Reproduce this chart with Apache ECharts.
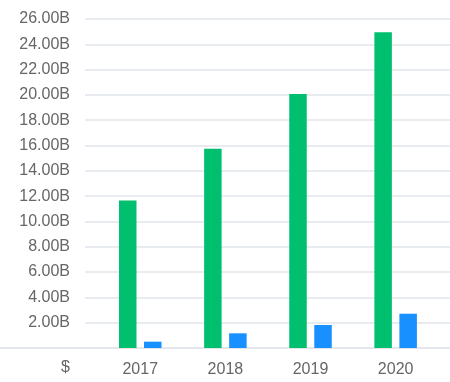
<!DOCTYPE html>
<html><head><meta charset="utf-8">
<script src="https://cdn.jsdelivr.net/npm/echarts@6/dist/echarts.min.js"></script>
<style>html,body{margin:0;padding:0;background:#fff}#c{width:450px;height:382px}</style>
</head><body><div id="c"></div>
<script>
var categories = ['2017', '2018', '2019', '2020'];
var seriesA = [11.65, 15.75, 20.08, 24.95];
var seriesB = [0.50, 1.16, 1.82, 2.71];
var yTicks = { min: 0, max: 26, interval: 2, suffix: 'B', unit: '$' };

var chart = echarts.init(document.getElementById('c'), null, { renderer: 'canvas' });
var labelColor = '#666';
var font = 'Arial, "Liberation Sans", sans-serif';
chart.setOption({
  animation: false,
  grid: [
    { left: 85, right: 0, top: 19, bottom: 34 },
    { left: 97.7, right: 11.8, top: 19, bottom: 34 },
    { left: 0, right: 0, top: 19, bottom: 34 }
  ],
  xAxis: [
    { gridIndex: 0, type: 'category', data: categories, show: false },
    { gridIndex: 1, type: 'category', data: categories,
      axisLine: { show: false }, axisTick: { show: false },
      axisLabel: { color: labelColor, fontSize: 16, fontFamily: font, margin: 14 } },
    { gridIndex: 2, type: 'category', data: categories,
      axisLine: { show: true, lineStyle: { color: '#e3e6eb', width: 2 } },
      axisTick: { show: false }, axisLabel: { show: false } }
  ],
  yAxis: [
    { gridIndex: 0, type: 'value', min: yTicks.min, max: yTicks.max, interval: yTicks.interval,
      name: yTicks.unit, nameLocation: 'start', nameGap: 12,
      nameTextStyle: { color: labelColor, fontSize: 16, fontFamily: font, align: 'right', padding: [0, 15, 0, 0] },
      axisLine: { show: false }, axisTick: { show: false },
      axisLabel: { color: labelColor, fontSize: 16, fontFamily: font, margin: 15,
        formatter: function (v) { return v === 0 ? '' : v.toFixed(2) + yTicks.suffix; } },
      splitLine: { lineStyle: { color: '#e8ebf0', width: 2 } } },
    { gridIndex: 1, type: 'value', min: yTicks.min, max: yTicks.max, interval: yTicks.interval, show: false },
    { gridIndex: 2, type: 'value', min: yTicks.min, max: yTicks.max, show: false }
  ],
  series: [
    { type: 'bar', xAxisIndex: 1, yAxisIndex: 1, data: seriesA, barWidth: 17.5, barGap: '43%',
      itemStyle: { color: '#00c070' } },
    { type: 'bar', xAxisIndex: 1, yAxisIndex: 1, data: seriesB, barWidth: 17.5, barGap: '43%',
      itemStyle: { color: '#1890ff' } }
  ]
});
</script></body></html>
